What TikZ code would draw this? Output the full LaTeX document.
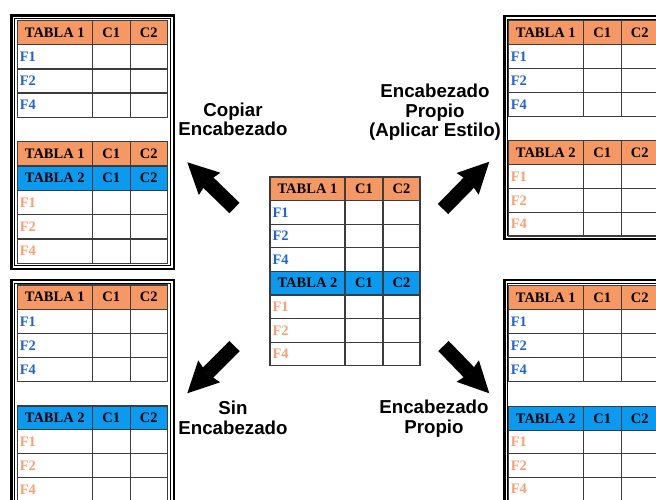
\documentclass[tikz,border=0pt]{standalone}
\usepackage{fontspec}
\setmainfont{Liberation Serif}
\newfontfamily\labfont{Liberation Sans}
\usetikzlibrary{arrows.meta}
\definecolor{orangeh}{RGB}{246,152,100}
\definecolor{blueh}{RGB}{10,155,240}
\definecolor{bluet}{RGB}{30,100,210}
\definecolor{oranget}{RGB}{250,160,110}
\definecolor{gridc}{RGB}{60,60,60}
\newcommand\tabfont{\bfseries\fontsize{14.5}{16}\selectfont}
\def\hh{h}
\tikzset{
  cell/.style={draw=gridc, line width=1.2pt, outer sep=0pt, inner sep=0pt,
    anchor=north west, font=\tabfont},
  lab/.style={font=\labfont\bfseries\fontsize{18.7}{19.7}\selectfont,
    align=center, inner sep=0pt, anchor=base},
  flecha/.style={line width=14.5pt,
    -{Stealth[length=31pt,width=31pt,inset=3pt,line width=0pt]}},
  marco/.style={line width=2.5pt},
  marcoin/.style={line width=1pt}
}
% #1 name, #2 x, #3 y, #4 row height, #5 rows type/colour/label
\newcommand\tabla[5]{%
  \foreach \tp/\cl/\lb [count=\i from 0] in {#5} {%
    \pgfmathsetmacro\yy{#3+\i*#4}%
    \ifx\tp\hh
      \node[cell, fill=\cl, minimum width=75pt, minimum height=#4pt] (#1-\i-a) at (#2,\yy) {\lb};
      \node[cell, fill=\cl, minimum width=38pt, minimum height=#4pt] (#1-\i-b) at (#1-\i-a.north east) {C1};
      \node[cell, fill=\cl, minimum width=37pt, minimum height=#4pt] (#1-\i-c) at (#1-\i-b.north east) {C2};
    \else
      \node[cell, text=\cl, text width=70pt, inner xsep=2.5pt, align=left, minimum height=#4pt] (#1-\i-a) at (#2,\yy) {\lb};
      \node[cell, minimum width=38pt, minimum height=#4pt] (#1-\i-b) at (#1-\i-a.north east) {};
      \node[cell, minimum width=37pt, minimum height=#4pt] (#1-\i-c) at (#1-\i-b.north east) {};
    \fi
  }}
\newcommand\marcobox[4]{%
  \draw[marco] (#1,#2) rectangle (#3,#4);
  \draw[marcoin] ({#1+3.2},{#2+3.2}) rectangle ({#3-3.2},{#4-3.2});}
\begin{document}
\begin{tikzpicture}[x=1pt,y=-1pt]
\useasboundingbox (0,0) rectangle (656,499);
\clip (0,0) rectangle (656,499);
% frames
\marcobox{11.5}{15.5}{174}{269}
\marcobox{504.5}{16}{720}{239}
\marcobox{11.5}{280}{174}{580}
\marcobox{504.5}{280}{720}{580}
% central table
\tabla{cen}{270}{177}{23.6}{h/orangeh/TABLA 1, d/bluet/F1, d/bluet/F2, d/bluet/F4,
  h/blueh/TABLA 2, d/oranget/F1, d/oranget/F2, d/oranget/F4}
% top left
\tabla{tla}{17.3}{20.7}{24.1}{h/orangeh/TABLA 1, d/bluet/F1, d/bluet/F2, d/bluet/F4}
\tabla{tlb}{17.3}{141.7}{24.3}{h/orangeh/TABLA 1, h/blueh/TABLA 2, d/oranget/F1, d/oranget/F2, d/oranget/F4}
% top right
\tabla{tra}{508.3}{20.7}{24}{h/orangeh/TABLA 1, d/bluet/F1, d/bluet/F2, d/bluet/F4}
\tabla{trb}{508.3}{140.7}{23.8}{h/orangeh/TABLA 2, d/oranget/F1, d/oranget/F2, d/oranget/F4}
% bottom left
\tabla{bla}{17.3}{285}{24.2}{h/orangeh/TABLA 1, d/bluet/F1, d/bluet/F2, d/bluet/F4}
\tabla{blb}{17.3}{406}{23.8}{h/blueh/TABLA 2, d/oranget/F1, d/oranget/F2, d/oranget/F4}
% bottom right
\tabla{bra}{508.3}{285.7}{24}{h/orangeh/TABLA 1, d/bluet/F1, d/bluet/F2, d/bluet/F4}
\tabla{brb}{508.3}{406.7}{23.5}{h/blueh/TABLA 2, d/oranget/F1, d/oranget/F2, d/oranget/F4}
% arrows
\coordinate (tl1) at (234.5,208);
\coordinate (tl2) at (187.3,162.3);
\coordinate (tr1) at (443,209);
\coordinate (tr2) at (489.3,161.7);
\coordinate (bl1) at (234.5,346);
\coordinate (bl2) at (187.3,393.3);
\coordinate (br1) at (443.5,346);
\coordinate (br2) at (489.3,393.3);
\draw[flecha] (tl1) -- (tl2);
\draw[flecha] (tr1) -- (tr2);
\draw[flecha] (bl1) -- (bl2);
\draw[flecha] (br1) -- (br2);
% labels (base = baseline of the last line)
\node[lab] (copiar) at (233,135.7) {Copiar\\Encabezado};
\node[lab] (estilo) at (435,136.7) {Encabezado\\Propio\\(Aplicar Estilo)};
\node[lab] (sin) at (233,434) {Sin\\Encabezado};
\node[lab] (propio) at (434,433) {Encabezado\\Propio};
\end{tikzpicture}
\end{document}
